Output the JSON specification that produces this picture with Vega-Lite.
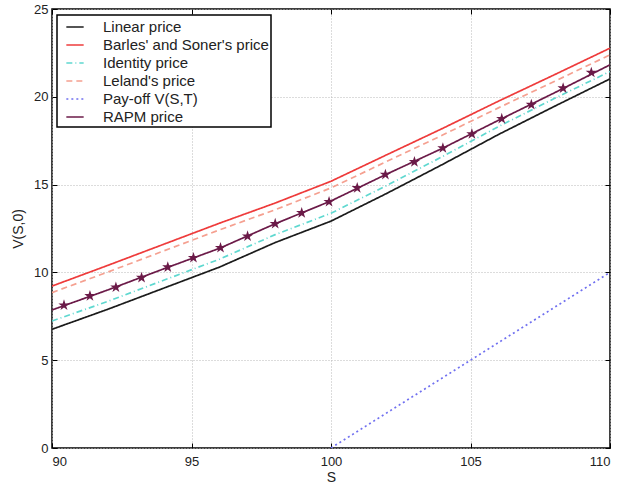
{
  "$schema": "https://vega.github.io/schema/vega-lite/v6.json",
  "autosize": "none",
  "width": 558,
  "height": 439,
  "padding": {"left": 52, "top": 9, "right": 12, "bottom": 40},
  "background": "white",
  "config": {
    "view": {"stroke": "black", "strokeWidth": 1.5},
    "font": "Liberation Sans",
    "legend": {"strokeWidth": 1.5},
    "axis": {
      "labelFont": "Liberation Sans",
      "titleFont": "Liberation Sans",
      "labelFontSize": 13,
      "titleFontSize": 14,
      "labelColor": "#222",
      "titleColor": "#222",
      "titleFontWeight": "normal",
      "domain": false,
      "tickColor": "black",
      "tickSize": -5,
      "gridColor": "#b8b8b8",
      "gridDash": [1, 2],
      "gridWidth": 1,
      "gridOpacity": 1
    }
  },
  "resolve": {"axis": {"x": "independent", "y": "independent"}},
  "datasets": {
    "curves": [
      {"series": "Linear price", "S": 90, "V": 6.76},
      {"series": "Linear price", "S": 92, "V": 7.9},
      {"series": "Linear price", "S": 94, "V": 9.1},
      {"series": "Linear price", "S": 96, "V": 10.3},
      {"series": "Linear price", "S": 98, "V": 11.7},
      {"series": "Linear price", "S": 100, "V": 12.92},
      {"series": "Linear price", "S": 102, "V": 14.5},
      {"series": "Linear price", "S": 104, "V": 16.15},
      {"series": "Linear price", "S": 106, "V": 17.85},
      {"series": "Linear price", "S": 108, "V": 19.45},
      {"series": "Linear price", "S": 110, "V": 21.02},
      {"series": "Barles' and Soner's price", "S": 90, "V": 9.22},
      {"series": "Barles' and Soner's price", "S": 92, "V": 10.4},
      {"series": "Barles' and Soner's price", "S": 94, "V": 11.6},
      {"series": "Barles' and Soner's price", "S": 96, "V": 12.8},
      {"series": "Barles' and Soner's price", "S": 98, "V": 13.95},
      {"series": "Barles' and Soner's price", "S": 100, "V": 15.19},
      {"series": "Barles' and Soner's price", "S": 102, "V": 16.7},
      {"series": "Barles' and Soner's price", "S": 104, "V": 18.2},
      {"series": "Barles' and Soner's price", "S": 106, "V": 19.75},
      {"series": "Barles' and Soner's price", "S": 108, "V": 21.25},
      {"series": "Barles' and Soner's price", "S": 110, "V": 22.77},
      {"series": "Identity price", "S": 90, "V": 7.23},
      {"series": "Identity price", "S": 92, "V": 8.35},
      {"series": "Identity price", "S": 94, "V": 9.55},
      {"series": "Identity price", "S": 96, "V": 10.75},
      {"series": "Identity price", "S": 98, "V": 12.15},
      {"series": "Identity price", "S": 100, "V": 13.37},
      {"series": "Identity price", "S": 102, "V": 14.95},
      {"series": "Identity price", "S": 104, "V": 16.6},
      {"series": "Identity price", "S": 106, "V": 18.3},
      {"series": "Identity price", "S": 108, "V": 19.9},
      {"series": "Identity price", "S": 110, "V": 21.44},
      {"series": "Leland's price", "S": 90, "V": 8.85},
      {"series": "Leland's price", "S": 92, "V": 10.02},
      {"series": "Leland's price", "S": 94, "V": 11.22},
      {"series": "Leland's price", "S": 96, "V": 12.42},
      {"series": "Leland's price", "S": 98, "V": 13.57},
      {"series": "Leland's price", "S": 100, "V": 14.81},
      {"series": "Leland's price", "S": 102, "V": 16.32},
      {"series": "Leland's price", "S": 104, "V": 17.82},
      {"series": "Leland's price", "S": 106, "V": 19.37},
      {"series": "Leland's price", "S": 108, "V": 20.87},
      {"series": "Leland's price", "S": 110, "V": 22.39},
      {"series": "Pay-off V(S,T)", "S": 100, "V": 0},
      {"series": "Pay-off V(S,T)", "S": 110, "V": 10},
      {"series": "RAPM price", "S": 90, "V": 7.86},
      {"series": "RAPM price", "S": 92, "V": 9.0},
      {"series": "RAPM price", "S": 94, "V": 10.2},
      {"series": "RAPM price", "S": 96, "V": 11.37},
      {"series": "RAPM price", "S": 98, "V": 12.77},
      {"series": "RAPM price", "S": 100, "V": 14.07},
      {"series": "RAPM price", "S": 102, "V": 15.6},
      {"series": "RAPM price", "S": 104, "V": 17.07},
      {"series": "RAPM price", "S": 106, "V": 18.66},
      {"series": "RAPM price", "S": 108, "V": 20.22},
      {"series": "RAPM price", "S": 110, "V": 21.82}
    ],
    "markers": [
      {"S": 90.43, "V": 8.13},
      {"S": 91.36, "V": 8.66},
      {"S": 92.29, "V": 9.15},
      {"S": 93.21, "V": 9.7},
      {"S": 94.15, "V": 10.3},
      {"S": 95.07, "V": 10.83},
      {"S": 96.04, "V": 11.4},
      {"S": 97.01, "V": 12.06},
      {"S": 98.0, "V": 12.77},
      {"S": 98.95, "V": 13.39},
      {"S": 99.93, "V": 14.02},
      {"S": 100.94, "V": 14.81},
      {"S": 101.95, "V": 15.57},
      {"S": 102.99, "V": 16.29},
      {"S": 104.01, "V": 17.08},
      {"S": 105.05, "V": 17.88},
      {"S": 106.12, "V": 18.75},
      {"S": 107.18, "V": 19.55},
      {"S": 108.32, "V": 20.49},
      {"S": 109.33, "V": 21.38}
    ]
  },
  "layer": [
    {
      "data": {"name": "curves"},
      "mark": {"type": "line", "strokeWidth": 1.7, "clip": true},
      "encoding": {
        "x": {
          "field": "S", "type": "quantitative",
          "scale": {"domain": [90, 110], "nice": false, "zero": false},
          "axis": {"values": [90, 95, 100, 105, 110], "title": "S", "labelPadding": 12, "titlePadding": 2, "grid": true}
        },
        "y": {
          "field": "V", "type": "quantitative",
          "scale": {"domain": [0, 25], "nice": false},
          "axis": {"values": [0, 5, 10, 15, 20, 25], "title": "V(S,0)", "labelPadding": 9, "titlePadding": 8, "grid": true}
        },
        "color": {
          "field": "series", "type": "nominal",
          "scale": {
            "domain": ["Linear price", "Barles' and Soner's price", "Identity price", "Leland's price", "Pay-off V(S,T)", "RAPM price"],
            "range": ["#1b1b1b", "#ee3b3b", "#5fd8d0", "#f5a090", "#7070f0", "#6b1a48"]
          },
          "legend": {
            "title": null,
            "orient": "none",
            "legendX": 5,
            "legendY": 6,
            "fillColor": "white",
            "strokeColor": "black",
            "padding": 2,
            "symbolType": "stroke",
            "symbolSize": 300,
            "symbolOffset": 6,
            "symbolStrokeWidth": 1.7,
            "labelFontSize": 15,
            "labelFont": "Liberation Sans",
            "labelColor": "#222",
            "rowPadding": 0,
            "labelOffset": 18,
            "labelLimit": 300
          }
        },
        "strokeDash": {
          "field": "series", "type": "nominal",
          "scale": {
            "domain": ["Linear price", "Barles' and Soner's price", "Identity price", "Leland's price", "Pay-off V(S,T)", "RAPM price"],
            "range": [[1, 0], [1, 0], [6, 3, 1, 3], [6, 4], [2, 3], [1, 0]]
          },
          "legend": null
        }
      }
    },
    {
      "data": {"name": "markers"},
      "mark": {
        "type": "point",
        "shape": "M0,-1L0.2245,-0.309L0.951,-0.309L0.363,0.118L0.588,0.809L0,0.382L-0.588,0.809L-0.363,0.118L-0.951,-0.309L-0.2245,-0.309Z",
        "size": 140,
        "filled": true,
        "color": "#6b1a48",
        "opacity": 1
      },
      "encoding": {
        "x": {"field": "S", "type": "quantitative", "axis": {"orient": "top", "values": [90, 95, 100, 105, 110], "labels": false, "title": null, "grid": false}},
        "y": {"field": "V", "type": "quantitative", "axis": {"orient": "right", "values": [0, 5, 10, 15, 20, 25], "labels": false, "title": null, "grid": false}}
      }
    }
  ]
}
